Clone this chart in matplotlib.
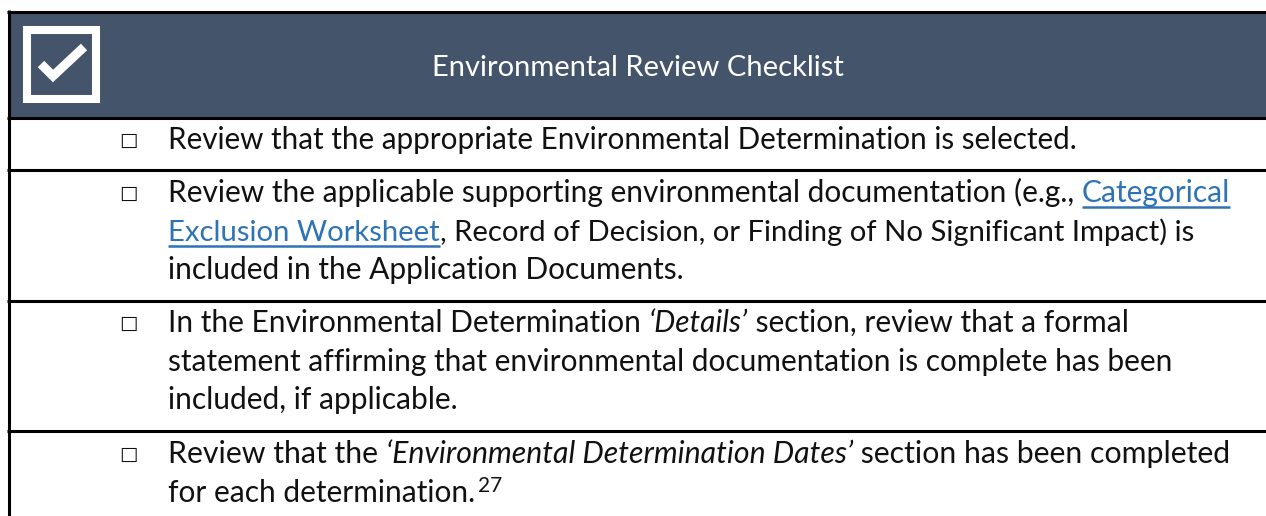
import matplotlib
matplotlib.use("Agg")
import matplotlib.pyplot as plt
from matplotlib.patches import Rectangle

W, H = 1266, 516
NAVY = "#44546a"
LINK = "#2e74b5"
TEXT = "#111111"

TITLE = "Environmental Review Checklist"
BOX_X = 128.5
TEXT_X = 168
FONT = "Lato"
SIZE = 21.5

# y of the rules between rows
RULES = [117.5, 170, 300.5, 431]

# each line: (baseline y, right end in px or None, [(text, style), ...])
LINES = [
    (149, 1078, [("Review that the appropriate Environmental Determination is selected.", "n")]),
    (202, 1229, [("Review the applicable supporting environmental documentation (e.g., ", "n"),
                 ("Categorical", "l")]),
    (241, 1195, [("Exclusion Worksheet", "l"),
                 (", Record of Decision, or Finding of No Significant Impact) is", "n")]),
    (279, None, [("included in the Application Documents.", "n")]),
    (332, 1129, [("In the Environmental Determination ", "n"), ("\u2018Details\u2019", "i"),
                 (" section, review that a formal", "n")]),
    (371, 1173, [("statement affirming that environmental documentation is complete has been", "n")]),
    (409, None, [("included, if applicable.", "n")]),
    (463, 1233, [("Review that the ", "n"), ("\u2018Environmental Determination Dates\u2019", "i"),
                 (" section has been completed", "n")]),
    (502, None, [("for each determination.", "n")]),
]
BOX_Y = [149, 202, 332, 463]


def draw_runs(ax, renderer, y, runs, size):
    x = TEXT_X
    for s, style in runs:
        t = ax.text(x, y, s.replace(" ", "\u00a0"), fontsize=size, family=FONT, va="baseline",
                    color=LINK if style == "l" else TEXT,
                    style="italic" if style == "i" else "normal")
        bb = t.get_window_extent(renderer)
        if style == "l":
            ax.plot([x, bb.x1], [y + 4.5, y + 4.5], color=LINK, lw=1.8, solid_capstyle="butt")
        x = bb.x1
    return x


def measure(ax, renderer, runs, size):
    width = 0
    for s, style in runs:
        t = ax.text(0, 0, s.replace(" ", "\u00a0"), fontsize=size, family=FONT,
                    style="italic" if style == "i" else "normal")
        width += t.get_window_extent(renderer).width
        t.remove()
    return width


def main():
    fig = plt.figure(figsize=(W / 100, H / 100), dpi=100)
    ax = fig.add_axes([0, 0, 1, 1])
    ax.set_xlim(0, W)
    ax.set_ylim(H, 0)
    ax.axis("off")
    renderer = fig.canvas.get_renderer()

    # header band and table rules
    ax.add_patch(Rectangle((8, 11), W - 8, 106, fc=NAVY, ec="none"))
    ax.plot([7, W], [11.5, 11.5], color="black", lw=2.2, solid_capstyle="butt")
    for y in RULES:
        ax.plot([7, W], [y, y], color="black", lw=2.2, solid_capstyle="butt")
    ax.plot([8.5, 8.5], [10, H], color="black", lw=2.2, solid_capstyle="butt")

    # checkbox icon
    ax.add_patch(Rectangle((27, 30), 69, 69, fc="none", ec="white", lw=5.8))
    ax.plot([41, 53, 84], [64, 76, 47], color="white", lw=6.5, solid_joinstyle="miter",
            solid_capstyle="butt")

    ax.text(638, 76, TITLE, ha="center", va="baseline", fontsize=21, family=FONT, color="white")

    for y in BOX_Y:
        ax.text(BOX_X, y - 3, "\u25a1", ha="center", va="baseline", fontsize=14,
                family="DejaVu Sans", color=TEXT)

    # Lato runs a bit narrower than the original face, so fit each line to its right end
    for y, right, runs in LINES:
        size = SIZE
        if right is not None:
            size = SIZE * (right - TEXT_X) / measure(ax, renderer, runs, SIZE)
        end = draw_runs(ax, renderer, y, runs, size)
        if y == 502:
            ax.text(end + 3, y - 10, "27", fontsize=15, family=FONT, color=TEXT, va="baseline")

    fig.savefig("out.png", dpi=100, facecolor="white")


if __name__ == "__main__":
    main()
